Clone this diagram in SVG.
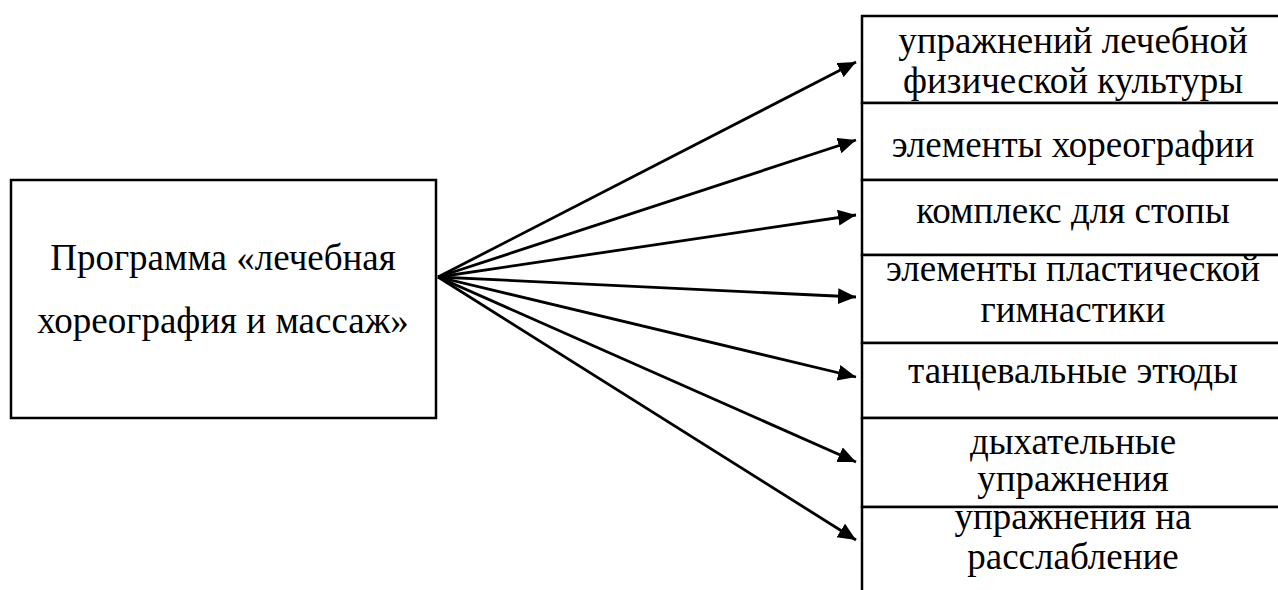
<svg xmlns="http://www.w3.org/2000/svg" width="1278" height="590" viewBox="0 0 1278 590">
  <style>
    .box { fill: #ffffff; stroke: #000000; stroke-width: 2.5; }
    .lbl { font-family: "Liberation Serif", "Times New Roman", serif; font-size: 37px; fill: #000000; text-anchor: middle; }
    .conn { stroke: #000000; stroke-width: 2.8; fill: none; marker-end: url(#arrow); }
  </style>
  <defs>
    <marker id="arrow" markerUnits="userSpaceOnUse" markerWidth="20" markerHeight="18" refX="18" refY="8" orient="auto">
      <path d="M0,0 L18,8 L0,16 z" fill="#000000"/>
    </marker>
  </defs>
  <rect width="1278" height="590" fill="#ffffff"/>

  <!-- source node -->
  <g id="program">
    <rect class="box" x="11" y="180" width="425" height="238"/>
    <text class="lbl" x="223" y="270">Программа «лечебная</text>
    <text class="lbl" x="223" y="333">хореография и массаж»</text>
  </g>

  <!-- target column -->
  <g id="lfk">
    <rect class="box" x="862" y="16" width="430" height="87"/>
    <text class="lbl" x="1073" y="53">упражнений лечебной</text>
    <text class="lbl" x="1073" y="93">физической культуры</text>
  </g>
  <g id="choreo">
    <rect class="box" x="862" y="103" width="430" height="77"/>
    <text class="lbl" x="1073" y="157">элементы хореографии</text>
  </g>
  <g id="foot">
    <rect class="box" x="862" y="180" width="430" height="75"/>
    <text class="lbl" x="1073" y="223">комплекс для стопы</text>
  </g>
  <g id="plastic">
    <rect class="box" x="862" y="255" width="430" height="88"/>
    <text class="lbl" x="1073" y="281">элементы пластической</text>
    <text class="lbl" x="1073" y="322">гимнастики</text>
  </g>
  <g id="dance">
    <rect class="box" x="862" y="343" width="430" height="75"/>
    <text class="lbl" x="1073" y="383">танцевальные этюды</text>
  </g>
  <g id="breath">
    <rect class="box" x="862" y="418" width="430" height="89"/>
    <text class="lbl" x="1073" y="454">дыхательные</text>
    <text class="lbl" x="1073" y="491">упражнения</text>
  </g>
  <g id="relax">
    <rect class="box" x="862" y="507" width="430" height="100"/>
    <text class="lbl" x="1073" y="529">упражнения на</text>
    <text class="lbl" x="1073" y="569">расслабление</text>
  </g>

  <!-- connectors -->
  <g id="connectors">
    <line class="conn" x1="438" y1="277" x2="856" y2="62"/>
    <line class="conn" x1="438" y1="277" x2="856" y2="140"/>
    <line class="conn" x1="438" y1="277" x2="856" y2="215"/>
    <line class="conn" x1="438" y1="277" x2="856" y2="297"/>
    <line class="conn" x1="438" y1="277" x2="856" y2="377"/>
    <line class="conn" x1="438" y1="277" x2="856" y2="462"/>
    <line class="conn" x1="438" y1="277" x2="856" y2="540"/>
  </g>
</svg>
